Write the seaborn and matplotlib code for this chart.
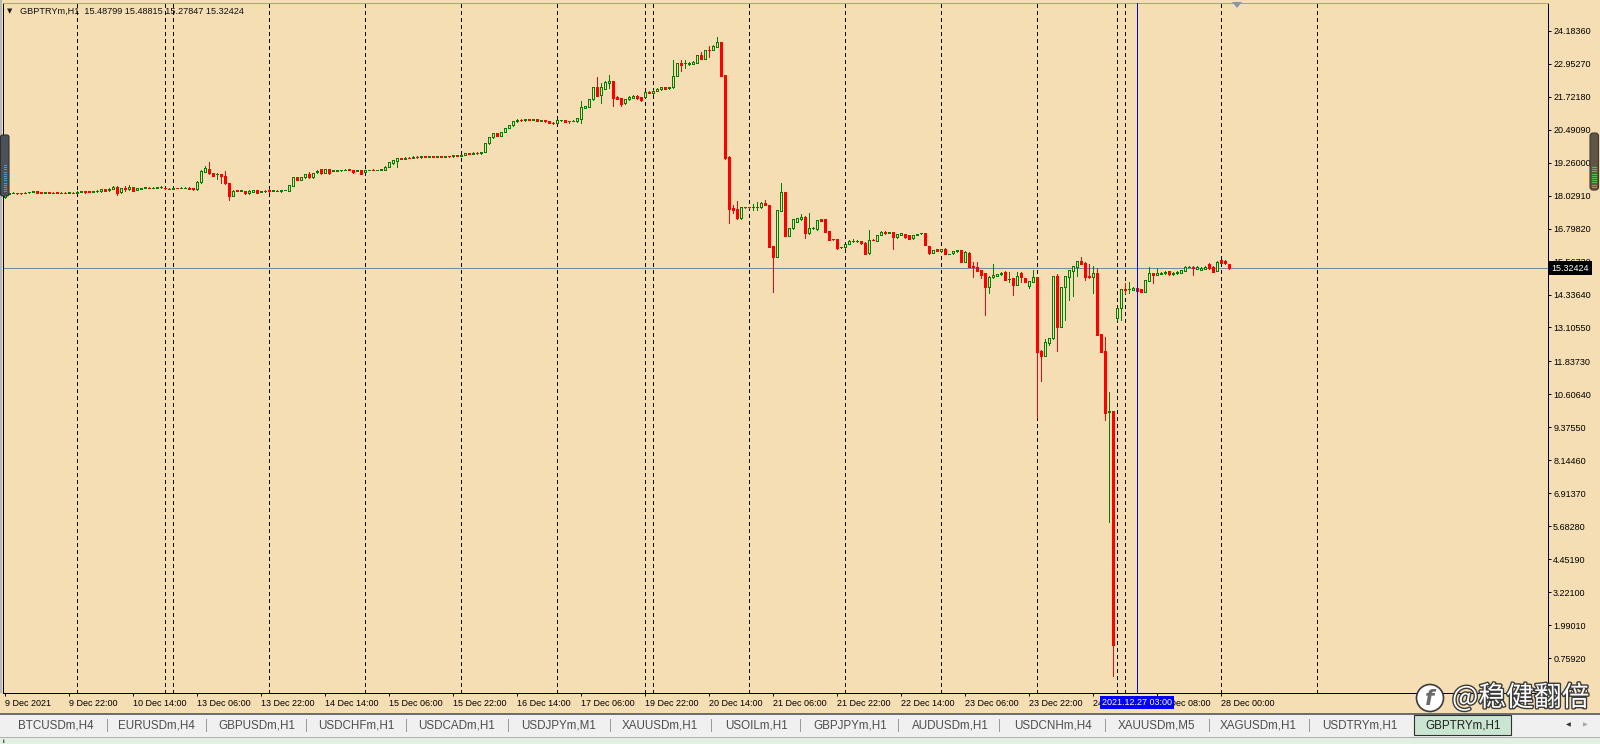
import numpy as np
import pandas as pd
import matplotlib
matplotlib.use("Agg")
import matplotlib.pyplot as plt
import matplotlib.transforms as mtransforms
import matplotlib.patheffects as pe
from matplotlib.patches import Rectangle, FancyBboxPatch, Polygon, Circle
import seaborn as sns

# ---------------- data ----------------
symbol = "GBPTRYm,H1"
header_values = ["15.48799", "15.48815", "15.27847", "15.32424"]

opens = [
    17.96, 18.10, 18.13, 18.12, 18.12, 18.12, 18.15, 18.17, 18.20, 18.15,
    18.14, 18.15, 18.14, 18.15, 18.13, 18.14, 18.14, 18.14, 18.14, 18.18,
    18.20, 18.19, 18.18, 18.19, 18.19, 18.27, 18.22, 18.28, 18.36, 18.15,
    18.30, 18.26, 18.34, 18.24, 18.27, 18.33, 18.33, 18.32, 18.33, 18.34,
    18.31, 18.29, 18.29, 18.32, 18.32, 18.32, 18.33, 18.30, 18.26, 18.52,
    18.92, 19.02, 18.86, 18.83, 18.82, 18.76, 18.49, 18.03, 18.22, 18.21,
    18.20, 18.11, 18.18, 18.22, 18.16, 18.20, 18.25, 18.21, 18.21, 18.19,
    18.23, 18.21, 18.40, 18.73, 18.61, 18.71, 18.82, 18.71, 18.90, 19.01,
    18.88, 19.01, 18.96, 18.96, 18.97, 18.99, 19.01, 18.98, 18.96, 18.98,
    18.92, 18.98, 19.00, 18.98, 19.00, 18.98, 19.11, 19.23, 19.33, 19.42,
    19.40, 19.45, 19.44, 19.48, 19.46, 19.50, 19.47, 19.49, 19.47, 19.50,
    19.48, 19.51, 19.49, 19.53, 19.50, 19.55, 19.60, 19.58, 19.63, 19.60,
    19.66, 19.98, 20.20, 20.35, 20.25, 20.40, 20.55, 20.65, 20.80, 20.86,
    20.84, 20.88, 20.85, 20.87, 20.82, 20.85, 20.80, 20.75, 20.75, 20.84,
    20.85, 20.81, 20.82, 20.80, 20.88, 21.31, 21.35, 21.62, 22.07, 21.77,
    22.02, 22.24, 22.31, 21.72, 21.66, 21.47, 21.62, 21.68, 21.75, 21.70,
    21.72, 21.88, 21.87, 21.95, 21.99, 22.07, 22.03, 22.07, 22.49, 22.99,
    22.96, 22.93, 22.94, 22.99, 23.28, 23.12, 23.46, 23.46, 23.59, 23.75,
    22.53, 19.48, 17.58, 17.53, 17.18, 17.59, 17.60, 17.59, 17.59, 17.59,
    17.77, 17.68, 16.15, 15.75, 17.47, 18.15, 16.53, 16.81, 17.06, 17.14,
    17.24, 16.62, 16.81, 16.77, 17.14, 17.14, 16.71, 16.40, 16.40, 16.10,
    16.10, 16.22, 16.33, 16.33, 16.33, 16.27, 15.87, 16.38, 16.35, 16.56,
    16.68, 16.65, 16.66, 16.47, 16.55, 16.60, 16.56, 16.43, 16.55, 16.62,
    16.62, 16.15, 15.90, 16.02, 15.95, 16.05, 15.85, 15.87, 15.95, 16.00,
    15.56, 15.90, 15.40, 15.35, 15.25, 15.13, 14.63, 14.98, 15.03, 15.09,
    15.19, 14.90, 14.94, 14.69, 15.13, 14.94, 14.67, 14.82, 14.99, 12.24,
    12.05, 12.54, 12.70, 15.03, 13.14, 14.60, 15.00, 15.23, 15.38, 15.59,
    15.53, 15.03, 15.00, 15.13, 12.86, 12.23, 9.96, 9.99, 13.47, 13.82,
    14.53, 14.53, 14.51, 14.57, 14.54, 14.44, 14.85, 15.13, 15.07, 15.10,
    15.13, 15.21, 15.09, 15.13, 15.15, 15.21, 15.37, 15.38, 15.28, 15.25,
    15.28, 15.48, 15.38, 15.23, 15.62, 15.60, 15.48799,
]
highs = [
    18.10, 18.12, 18.16, 18.13, 18.14, 18.15, 18.18, 18.21, 18.21, 18.16,
    18.16, 18.16, 18.15, 18.16, 18.15, 18.15, 18.16, 18.15, 18.19, 18.21,
    18.21, 18.20, 18.20, 18.22, 18.28, 18.28, 18.30, 18.37, 18.37, 18.32,
    18.38, 18.42, 18.35, 18.32, 18.33, 18.35, 18.34, 18.34, 18.35, 18.37,
    18.32, 18.31, 18.31, 18.33, 18.34, 18.34, 18.34, 18.31, 18.57, 18.97,
    19.13, 19.28, 18.88, 18.86, 18.83, 18.96, 18.50, 18.22, 18.23, 18.23,
    18.21, 18.22, 18.23, 18.23, 18.21, 18.23, 18.26, 18.24, 18.23, 18.25,
    18.25, 18.43, 18.72, 18.74, 18.72, 18.83, 18.92, 18.89, 18.97, 19.02,
    19.03, 19.02, 18.99, 18.98, 18.99, 19.01, 19.02, 18.99, 18.98, 18.99,
    18.99, 19.00, 19.01, 19.00, 19.02, 19.12, 19.28, 19.37, 19.43, 19.44,
    19.46, 19.47, 19.49, 19.50, 19.51, 19.51, 19.50, 19.50, 19.51, 19.51,
    19.52, 19.52, 19.54, 19.54, 19.56, 19.61, 19.62, 19.64, 19.64, 19.67,
    19.99, 20.21, 20.36, 20.37, 20.41, 20.56, 20.66, 20.81, 20.87, 20.87,
    20.89, 20.89, 20.88, 20.88, 20.86, 20.86, 20.81, 20.77, 20.86, 20.86,
    20.86, 20.82, 20.86, 20.92, 21.57, 21.39, 21.64, 22.08, 22.47, 22.22,
    22.30, 22.53, 22.32, 21.75, 21.67, 21.64, 21.74, 21.77, 21.77, 21.71,
    21.89, 21.92, 21.96, 22.03, 22.08, 22.10, 22.10, 23.09, 22.98, 23.09,
    23.09, 23.00, 23.04, 23.29, 23.40, 23.47, 23.61, 23.64, 23.94, 23.76,
    22.54, 19.49, 17.68, 17.83, 17.60, 17.61, 17.61, 17.70, 17.80, 17.78,
    17.86, 17.69, 16.16, 17.50, 18.49, 18.16, 16.82, 17.15, 17.19, 17.34,
    17.25, 17.39, 16.84, 17.13, 17.15, 17.15, 16.72, 16.41, 16.41, 16.11,
    16.23, 16.36, 16.40, 16.38, 16.34, 16.28, 16.74, 16.39, 16.57, 16.69,
    16.70, 16.68, 16.67, 16.61, 16.63, 16.61, 16.57, 16.57, 16.61, 16.63,
    16.63, 16.16, 16.01, 16.03, 16.03, 16.06, 15.86, 15.96, 16.00, 16.01,
    15.95, 15.91, 15.56, 15.56, 15.26, 15.14, 15.01, 15.46, 15.10, 15.16,
    15.20, 15.19, 14.95, 15.19, 15.16, 14.95, 14.85, 15.25, 15.00, 12.25,
    12.68, 12.72, 15.04, 15.10, 14.61, 15.04, 15.26, 15.41, 15.60, 15.72,
    15.54, 15.48, 15.40, 15.31, 12.87, 12.76, 10.71, 10.00, 13.83, 14.54,
    14.78, 14.80, 14.60, 14.75, 14.55, 14.89, 15.38, 15.14, 15.31, 15.16,
    15.20, 15.22, 15.16, 15.20, 15.26, 15.41, 15.39, 15.39, 15.39, 15.35,
    15.39, 15.50, 15.39, 15.57, 15.63, 15.61, 15.48815,
]
lows = [
    17.93, 18.09, 18.11, 18.10, 18.09, 18.11, 18.13, 18.16, 18.13, 18.13,
    18.13, 18.13, 18.12, 18.13, 18.12, 18.12, 18.13, 18.12, 18.13, 18.17,
    18.14, 18.17, 18.17, 18.17, 18.18, 18.20, 18.21, 18.27, 18.05, 18.14,
    18.21, 18.25, 18.20, 18.23, 18.26, 18.32, 18.31, 18.31, 18.32, 18.33,
    18.29, 18.27, 18.28, 18.30, 18.31, 18.31, 18.27, 18.25, 18.24, 18.51,
    18.90, 18.85, 18.75, 18.64, 18.49, 18.48, 17.87, 18.02, 18.20, 18.20,
    18.10, 18.10, 18.17, 18.13, 18.15, 18.18, 18.18, 18.19, 18.19, 18.18,
    18.22, 18.20, 18.39, 18.60, 18.60, 18.70, 18.70, 18.70, 18.89, 18.85,
    18.87, 18.85, 18.95, 18.95, 18.96, 18.98, 18.97, 18.89, 18.95, 18.82,
    18.91, 18.97, 18.98, 18.97, 18.99, 18.97, 19.10, 19.22, 19.08, 19.38,
    19.39, 19.43, 19.43, 19.45, 19.45, 19.46, 19.46, 19.46, 19.46, 19.47,
    19.47, 19.48, 19.48, 19.49, 19.49, 19.54, 19.57, 19.57, 19.59, 19.59,
    19.65, 19.97, 20.19, 20.24, 20.24, 20.39, 20.54, 20.64, 20.79, 20.83,
    20.83, 20.84, 20.84, 20.81, 20.81, 20.79, 20.74, 20.70, 20.74, 20.83,
    20.78, 20.73, 20.80, 20.79, 20.75, 21.30, 21.34, 21.61, 21.74, 21.50,
    22.01, 22.03, 21.39, 21.62, 21.38, 21.46, 21.61, 21.67, 21.65, 21.55,
    21.71, 21.84, 21.83, 21.94, 21.98, 22.01, 21.99, 22.06, 22.48, 22.69,
    22.78, 22.92, 22.93, 22.98, 23.11, 23.11, 23.21, 23.45, 23.58, 22.50,
    19.41, 16.99, 17.39, 17.17, 17.17, 17.58, 17.58, 17.49, 17.49, 17.58,
    17.66, 16.11, 14.44, 15.74, 17.46, 16.52, 16.52, 16.80, 17.05, 17.13,
    16.43, 16.61, 16.79, 16.76, 17.08, 16.67, 16.36, 16.38, 16.05, 16.09,
    16.09, 16.21, 16.28, 16.30, 16.24, 15.83, 15.86, 16.36, 16.34, 16.55,
    16.61, 16.63, 16.03, 16.46, 16.54, 16.45, 16.39, 16.42, 16.54, 16.61,
    16.17, 15.84, 15.89, 15.96, 15.94, 15.83, 15.84, 15.86, 15.94, 15.55,
    15.55, 15.37, 15.00, 15.22, 14.94, 13.57, 14.38, 14.97, 15.02, 15.08,
    14.87, 14.82, 14.32, 14.68, 14.82, 14.81, 14.59, 14.81, 9.78, 11.12,
    12.04, 12.45, 12.69, 12.24, 13.13, 13.39, 14.13, 14.29, 15.03, 15.47,
    14.88, 14.97, 14.38, 12.82, 12.19, 9.65, 5.86, 0.10, 13.40, 13.39,
    14.40, 14.38, 14.50, 14.46, 14.43, 14.43, 14.84, 14.75, 15.06, 15.09,
    15.12, 15.08, 15.08, 15.12, 15.14, 15.20, 15.36, 15.07, 15.27, 15.24,
    15.27, 15.30, 15.18, 15.22, 15.52, 15.49, 15.27847,
]
closes = [
    18.09, 18.11, 18.14, 18.11, 18.11, 18.14, 18.16, 18.20, 18.14, 18.14,
    18.15, 18.14, 18.13, 18.14, 18.14, 18.13, 18.15, 18.13, 18.18, 18.20,
    18.15, 18.18, 18.19, 18.20, 18.27, 18.21, 18.29, 18.36, 18.14, 18.31,
    18.29, 18.36, 18.21, 18.31, 18.32, 18.34, 18.32, 18.33, 18.34, 18.35,
    18.30, 18.28, 18.30, 18.31, 18.33, 18.33, 18.28, 18.26, 18.55, 18.96,
    19.05, 18.86, 18.76, 18.84, 18.76, 18.49, 18.01, 18.21, 18.21, 18.22,
    18.11, 18.21, 18.22, 18.14, 18.20, 18.21, 18.19, 18.22, 18.20, 18.24,
    18.24, 18.42, 18.71, 18.61, 18.71, 18.82, 18.71, 18.88, 18.96, 18.86,
    19.02, 18.86, 18.98, 18.97, 18.98, 19.00, 18.98, 18.90, 18.97, 18.83,
    18.98, 18.99, 18.99, 18.99, 19.01, 19.11, 19.27, 19.36, 19.42, 19.40,
    19.45, 19.44, 19.48, 19.46, 19.50, 19.47, 19.49, 19.47, 19.50, 19.48,
    19.51, 19.49, 19.53, 19.50, 19.55, 19.60, 19.58, 19.63, 19.60, 19.66,
    19.98, 20.20, 20.35, 20.25, 20.40, 20.55, 20.65, 20.80, 20.86, 20.84,
    20.88, 20.85, 20.87, 20.82, 20.85, 20.80, 20.75, 20.72, 20.85, 20.84,
    20.79, 20.80, 20.83, 20.91, 21.32, 21.37, 21.63, 22.07, 21.75, 22.07,
    22.26, 22.31, 21.68, 21.63, 21.45, 21.63, 21.72, 21.75, 21.66, 21.60,
    21.88, 21.87, 21.95, 22.02, 22.07, 22.02, 22.09, 22.49, 22.97, 22.92,
    22.97, 22.99, 23.03, 23.28, 23.12, 23.46, 23.45, 23.63, 23.75, 22.51,
    19.42, 17.53, 17.49, 17.18, 17.59, 17.60, 17.59, 17.60, 17.60, 17.77,
    17.67, 16.12, 15.75, 17.49, 18.15, 16.53, 16.81, 17.14, 17.18, 17.24,
    16.62, 16.81, 16.82, 17.12, 17.09, 16.68, 16.37, 16.39, 16.06, 16.10,
    16.22, 16.35, 16.34, 16.34, 16.25, 15.84, 16.37, 16.37, 16.56, 16.68,
    16.62, 16.66, 16.47, 16.60, 16.62, 16.50, 16.40, 16.56, 16.60, 16.62,
    16.18, 15.90, 16.00, 15.97, 16.02, 15.84, 15.85, 15.95, 15.99, 15.56,
    15.94, 15.38, 15.35, 15.23, 15.07, 14.63, 15.00, 15.07, 15.09, 15.15,
    14.88, 14.90, 14.69, 15.03, 14.98, 14.82, 14.84, 15.00, 12.20, 12.04,
    12.55, 12.71, 15.03, 13.14, 14.60, 15.03, 15.25, 15.40, 15.59, 15.48,
    15.00, 14.98, 15.13, 12.83, 12.20, 9.93, 9.99, 1.25, 13.82, 14.53,
    14.52, 14.54, 14.59, 14.47, 14.44, 14.88, 15.13, 15.07, 15.13, 15.15,
    15.19, 15.09, 15.15, 15.19, 15.25, 15.38, 15.38, 15.31, 15.38, 15.34,
    15.38, 15.31, 15.19, 15.56, 15.53, 15.50, 15.32424,
]

# day separators (bar index where a new day starts)
separator_bars = [18, 40, 42, 66, 90, 114, 138, 160, 162, 186, 210, 234,
                  258, 278, 280, 304, 328]
time_labels = ["9 Dec 2021", "9 Dec 22:00", "10 Dec 14:00", "13 Dec 06:00",
               "13 Dec 22:00", "14 Dec 14:00", "15 Dec 06:00", "15 Dec 22:00",
               "16 Dec 14:00", "17 Dec 06:00", "19 Dec 22:00", "20 Dec 14:00",
               "21 Dec 06:00", "21 Dec 22:00", "22 Dec 14:00", "23 Dec 06:00",
               "23 Dec 22:00", "24 Dec 14:00", "27 Dec 08:00", "28 Dec 00:00"]
time_label_step = 16
cursor_bar = 283
cursor_label = "2021.12.27 03:00"
bid_price = 15.32424
price_labels = ["24.18360", "22.95270", "21.72180", "20.49090", "19.26000",
                "18.02910", "16.79820", "15.56730", "14.33640", "13.10550",
                "11.83730", "10.60640", "9.37550", "8.14460", "6.91370",
                "5.68280", "4.45190", "3.22100", "1.99010", "0.75920",
                "-0.47170"]
tabs = ["BTCUSDm,H4", "EURUSDm,H4", "GBPUSDm,H1", "USDCHFm,H1", "USDCADm,H1",
        "USDJPYm,M1", "XAUUSDm,H1", "USOILm,H1", "GBPJPYm,H1", "AUDUSDm,H1",
        "USDCNHm,H4", "XAUUSDm,M5", "XAGUSDm,H1", "USDTRYm,H1", "GBPTRYm,H1"]
active_tab = "GBPTRYm,H1"
watermark = "@稳健翻倍"

# ---------------- style ----------------
BG = "#F5DEB3"
GREEN = "#008000"
RED = "#FF0000"
LW = 0.72   # one pixel at 100 dpi
sns.set_theme(style="white")
plt.rcParams["font.family"] = ["Liberation Sans", "DejaVu Sans"]
plt.rcParams["axes.linewidth"] = LW

W, H = 1600, 744
fig = plt.figure(figsize=(W / 100, H / 100), dpi=100)
fig.patch.set_facecolor(BG)
pix = mtransforms.Affine2D().scale(1, -1).translate(0, H)   # top-left pixel coords


def fx(p):
    return p / W


def fy(p):
    return 1 - p / H


ax = fig.add_axes([fx(3), fy(693), fx(1548) - fx(3), fy(3) - fy(693)])
ax.set_facecolor(BG)

df = pd.DataFrame({"o": opens, "h": highs, "l": lows, "c": closes})
df["i"] = np.arange(len(df))
up = df[df.c >= df.o]
dn = df[df.c < df.o]

# separators, bid line
for b in separator_bars:
    ax.axvline(b, color="black", lw=LW, ls=(0, (3, 3)), zorder=1,
               antialiased=False)
ax.axhline(bid_price, color="#778899", lw=LW, zorder=1.5, antialiased=False)

# wicks
ax.vlines(up.i, up.l, up.h, color=GREEN, lw=LW, zorder=2, antialiased=False)
ax.vlines(dn.i, dn.l, dn.h, color=RED, lw=LW, zorder=2, antialiased=False)
# bodies
ax.bar(up.i, up.c - up.o, bottom=up.o, width=0.62, facecolor=BG,
       edgecolor=GREEN, linewidth=LW, zorder=3, antialiased=False)
ax.bar(dn.i, dn.o - dn.c, bottom=dn.c, width=0.62, facecolor=RED,
       edgecolor=RED, linewidth=LW, zorder=3, antialiased=False)

# cursor line
ax.axvline(cursor_bar, color="#0000FF", lw=LW, zorder=4, antialiased=False)

ax.set_xlim(-0.5, 385.75)
ax.set_ylim(-0.5383, 25.2176)

# axes
ax.yaxis.tick_right()
ax.set_yticks([float(s) for s in price_labels], price_labels)
ax.set_xticks(np.arange(len(time_labels)) * time_label_step, time_labels)
for lab in ax.get_xticklabels():
    lab.set_ha("left")
ax.tick_params(axis="y", which="major", direction="out", length=2.4, width=LW,
               pad=1.3, labelsize=6.5, colors="black", right=True, left=False)
ax.tick_params(axis="x", which="major", direction="out", length=2.4, width=LW,
               pad=2.0, labelsize=6.5, colors="black", bottom=True)
for side in ["left", "right", "bottom"]:
    ax.spines[side].set_color("black")
    ax.spines[side].set_linewidth(LW)
ax.spines["top"].set_color("#A0A0A0")
ax.grid(False)

# bid price box
blend_y = mtransforms.blended_transform_factory(ax.transAxes, ax.transData)
ax.annotate(f"{bid_price:.5f}", xy=(1.0, bid_price), xycoords=blend_y,
            xytext=(2.6, 0), textcoords="offset points", ha="left", va="center",
            fontsize=6.5, color="white", zorder=20, annotation_clip=False,
            bbox=dict(boxstyle="square,pad=0.28", fc="black", ec="none"))
# cursor time box
blend_x = mtransforms.blended_transform_factory(ax.transData, ax.transAxes)
ax.annotate(cursor_label, xy=(cursor_bar, 0.0), xycoords=blend_x,
            xytext=(0, -7.0), textcoords="offset points", ha="center",
            va="center", fontsize=6.5, color="white", zorder=20,
            annotation_clip=False,
            bbox=dict(boxstyle="square,pad=0.25", fc="#0000FF", ec="none"))

# header
fig.text(7, 11.5, "\u25BC", transform=pix, fontsize=5, va="center", ha="left",
         family=["DejaVu Sans"], color="#202020")
fig.text(20, 11.5, f"{symbol}  " + " ".join(header_values), transform=pix,
         fontsize=6.6, va="center", ha="left", color="#101010")

# chart shift marker
fig.add_artist(Polygon([[1232, 2], [1242, 2], [1237, 8]], closed=True,
                       transform=pix, fc="#8797A8", ec="none"))

# left / right scroll widgets
fig.add_artist(Rectangle((0, 0), 2, 693, transform=pix, fc="#B8B8B8", ec="none"))
fig.add_artist(FancyBboxPatch((0.5, 135), 8.5, 61, boxstyle="round,pad=0,rounding_size=2",
                              transform=pix, fc="#4B5157", ec="#2C3136", lw=0.8))
for yy in np.arange(165, 193, 2.2):
    fig.add_artist(Rectangle((3.5, yy), 3, 1.0, transform=pix, fc="#3A9BE8", ec="none"))
fig.add_artist(FancyBboxPatch((1590, 133), 8.5, 57, boxstyle="round,pad=0,rounding_size=3",
                              transform=pix, fc="#5F5648", ec="#3E382F", lw=0.8))
for yy in np.arange(167, 189, 2.2):
    fig.add_artist(Rectangle((1592, yy), 5, 1.0, transform=pix, fc="#4CC44C", ec="none"))

# tab bar
fig.add_artist(Rectangle((0, 714), W, 23, transform=pix, fc="#F0F0F0", ec="none"))
fig.add_artist(Rectangle((0, 713), W, 2, transform=pix, fc="#6E6E6E", ec="none"))
fig.add_artist(Rectangle((0, 737), W, 7, transform=pix, fc="#E2F0E2", ec="none"))
fig.add_artist(Rectangle((0, 737), W, 1, transform=pix, fc="#B0B0B0", ec="none"))
fig.text(3, 741.5, "ii", transform=pix, fontsize=4.5, va="center", color="#404040")
tab_centers = [56, 156, 257, 356, 457, 559, 660, 756, 850, 950, 1053, 1156,
               1258, 1360, 1463]
tab_seps = [107, 206, 306, 406, 508, 610, 711, 800, 898, 999, 1105, 1209, 1309]
for xs in tab_seps:
    fig.add_artist(Rectangle((xs, 719), 1, 13, transform=pix, fc="#9A9A9A", ec="none"))
for name, xc in zip(tabs, tab_centers):
    if name == active_tab:
        fig.add_artist(Rectangle((1414, 715), 97, 20, transform=pix,
                                 fc="#CBE6D0", ec="#303030", lw=0.8))
        fig.text(xc, 725.5, name, transform=pix, fontsize=8.4, ha="center",
                 va="center", color="#202020")
    else:
        fig.text(xc, 725.5, name, transform=pix, fontsize=8.4, ha="center",
                 va="center", color="#4E4E4E")
fig.text(1568, 725, "\u25C0", transform=pix, fontsize=4.5, ha="center",
         va="center", color="#303030", family=["DejaVu Sans"])
fig.text(1585, 725, "\u25B6", transform=pix, fontsize=4.5, ha="center",
         va="center", color="#A8A8A8", family=["DejaVu Sans"])

# watermark
fig.add_artist(Circle((1430, 698), 13.5, transform=pix, fc="white",
                      ec="#3A3A3A", lw=1.2, zorder=30))
fig.text(1430, 699, "f", transform=pix, fontsize=15, ha="center", va="center",
         color="#6A6A6A", style="italic", fontweight="bold", zorder=31,
         family=["DejaVu Sans"])
fig.text(1452, 698, watermark, transform=pix, fontsize=20, ha="left",
         va="center", color="white", zorder=31,
         family=["Noto Sans CJK SC", "DejaVu Sans"],
         path_effects=[pe.Stroke(linewidth=2.0, foreground="#3A3A3A"), pe.Normal()])

fig.savefig("out.png", dpi=100, facecolor=BG)
